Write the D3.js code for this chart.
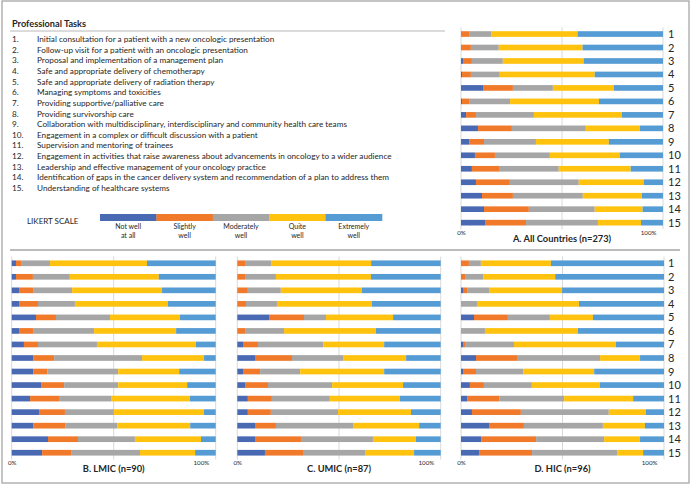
<!DOCTYPE html>
<html>
<head>
<meta charset="utf-8">
<script src="https://cdn.jsdelivr.net/npm/d3@7"></script>
<style>
  body { margin: 0; background: #fff; }
  svg text { font-family: Lato, "Open Sans", sans-serif; fill: #262626; }
</style>
</head>
<body>
<script>
// likert categories, in stacking order
const likert = ["Not well at all", "Slightly well", "Moderately well", "Quite well", "Extremely well"];
const likertLines = [["Not well", "at all"], ["Slightly", "well"], ["Moderately", "well"], ["Quite", "well"], ["Extremely", "well"]];
const likertColors = ["#4a69b3", "#f07a2a", "#a6a6a6", "#ffc20e", "#559bd4"];

const tasks = [
    "Initial consultation for a patient with a new oncologic presentation",
    "Follow-up visit for a patient with an oncologic presentation",
    "Proposal and implementation of a management plan",
    "Safe and appropriate delivery of chemotherapy",
    "Safe and appropriate delivery of radiation therapy",
    "Managing symptoms and toxicities",
    "Providing supportive/palliative care",
    "Providing survivorship care",
    "Collaboration with multidisciplinary, interdisciplinary and community health care teams",
    "Engagement in a complex or difficult discussion with a patient",
    "Supervision and mentoring of trainees",
    "Engagement in activities that raise awareness about advancements in oncology to a wider audience",
    "Leadership and effective management of your oncology practice",
    "Identification of gaps in the cancer delivery system and recommendation of a plan to address them",
    "Understanding of healthcare systems"
];
const taskIds = d3.range(1, 16);
const axisTicks = [0, 100];

// percentages per task (1..15): not well, slightly, moderately, quite, extremely
const allCountries = [
    [0, 4.0, 10.9, 42.8, 42.3], [0, 4.9, 13.8, 41.5, 39.8], [1.0, 4.4, 15.3, 40.0, 39.3],
    [0.5, 4.4, 14.3, 47.0, 33.8], [10.9, 14.8, 19.8, 30.1, 24.4], [0.5, 3.5, 20.3, 44.0, 31.7],
    [2.5, 4.9, 28.7, 43.5, 20.4], [8.4, 16.8, 36.6, 26.7, 11.5], [4.0, 7.4, 25.7, 36.1, 26.8],
    [6.9, 9.9, 27.2, 34.6, 21.4], [5.4, 13.8, 29.2, 35.6, 16.0], [7.4, 16.8, 34.1, 32.1, 9.6],
    [10.4, 15.3, 34.6, 29.2, 10.5], [11.4, 22.2, 32.6, 23.7, 10.1], [11.9, 20.3, 35.6, 21.3, 10.9]
];
const lmic = [
    [2.1, 2.5, 14.2, 47.5, 33.7], [2.1, 8.3, 18.1, 43.6, 27.9], [3.6, 6.9, 19.1, 44.1, 26.3],
    [3.6, 9.3, 18.1, 45.6, 23.4], [11.9, 9.8, 26.5, 34.3, 17.5], [3.6, 6.9, 29.9, 40.2, 19.4],
    [6.0, 6.9, 28.9, 48.5, 9.7], [10.5, 10.3, 43.1, 30.4, 5.7], [10.5, 6.9, 34.8, 29.9, 17.9],
    [14.4, 11.3, 26.5, 33.8, 14.0], [9.0, 14.2, 25.5, 38.7, 12.6], [13.4, 12.7, 24.0, 44.1, 5.8],
    [10.5, 15.7, 25.5, 35.8, 12.5], [17.8, 14.7, 27.9, 32.4, 7.2], [14.9, 14.2, 33.8, 27.0, 10.1]
];
const umic = [
    [0, 3.8, 12.8, 49.2, 34.2], [0, 3.8, 15.2, 46.7, 34.3], [0, 5.2, 16.2, 39.8, 38.8],
    [0, 4.3, 15.2, 46.7, 33.8], [15.6, 17.2, 10.8, 33.0, 23.4], [0, 3.8, 19.2, 45.2, 31.8],
    [2.8, 7.4, 32.0, 30.0, 27.8], [8.7, 18.2, 25.1, 31.0, 17.0], [2.8, 8.4, 19.7, 41.3, 27.8],
    [3.8, 11.3, 31.5, 34.9, 18.5], [5.2, 11.8, 28.5, 34.4, 20.1], [5.2, 11.3, 33.0, 35.9, 14.6],
    [8.7, 10.3, 37.9, 32.5, 10.6], [8.7, 22.6, 35.4, 21.1, 12.2], [13.6, 18.7, 30.5, 24.1, 13.1]
];
const hic = [
    [0, 3.9, 5.9, 34.5, 55.7], [0, 2.0, 8.9, 35.5, 53.6], [1.0, 2.0, 10.8, 36.0, 50.2],
    [0, 0, 7.9, 50.2, 41.9], [6.4, 16.7, 20.7, 21.2, 35.0], [0, 0, 11.8, 45.8, 42.4],
    [1.0, 1.0, 24.1, 50.2, 23.7], [7.4, 20.2, 40.9, 19.7, 11.8], [1.0, 6.4, 23.2, 35.0, 34.4],
    [4.4, 6.9, 23.6, 33.5, 31.6], [3.0, 15.8, 32.0, 34.0, 15.2], [5.4, 24.1, 43.3, 18.2, 9.0],
    [13.8, 17.2, 38.9, 20.7, 9.4], [9.9, 27.1, 33.5, 17.7, 11.8], [8.9, 26.1, 41.9, 12.8, 10.3]
];

const W = 691, H = 485;
const svg = d3.select("body").append("svg").attr("width", W).attr("height", H);

// frame
svg.append("rect").attr("x", 2).attr("y", 1).attr("width", 687).attr("height", 482)
    .attr("fill", "none").attr("stroke", "#a6a6a6").attr("stroke-width", 1.3);
svg.append("line").attr("x1", 10).attr("x2", 680).attr("y1", 250).attr("y2", 250)
    .attr("stroke", "#a6a6a6").attr("stroke-width", 1.3);

// task list
const list = svg.append("g");
list.append("text").attr("x", 12).attr("y", 27).attr("font-size", 9.2).attr("font-weight", "bold")
    .text("Professional Tasks");
list.append("line").attr("x1", 10).attr("x2", 445).attr("y1", 31).attr("y2", 31)
    .attr("stroke", "#a6a6a6").attr("stroke-width", 0.8);
const taskY = d3.scaleLinear().domain([1, 15]).range([42, 191]);
tasks.forEach((t, i) => {
    list.append("text").attr("x", 12).attr("y", taskY(i + 1)).attr("font-size", 8.2).text((i + 1) + ".");
    list.append("text").attr("x", 37).attr("y", taskY(i + 1)).attr("font-size", 8.2).text(t);
});

// legend
const lg = svg.append("g");
lg.append("text").attr("x", 27).attr("y", 224).attr("font-size", 8).text("LIKERT SCALE");
const lgx = d3.scaleBand().domain(likert).range([100, 382]).padding(0);
lg.selectAll("rect.key").data(likert).join("rect")
    .attr("x", d => lgx(d)).attr("y", 214).attr("width", lgx.bandwidth() + 0.3).attr("height", 7)
    .attr("fill", (d, i) => likertColors[i]);
likert.forEach((d, i) => {
    likertLines[i].forEach((ln, j) => {
        lg.append("text").attr("x", lgx(d) + lgx.bandwidth() / 2).attr("y", 228.5 + j * 9)
            .attr("text-anchor", "middle").attr("font-size", 7).text(ln);
    });
});

// stacked bar panels
function panel(data, title, x0, x1, top, bottom, showIds) {
    const g = svg.append("g");
    const x = d3.scaleLinear().domain([0, 100]).range([x0, x1]);
    const y = d3.scaleBand().domain(taskIds).range([top, bottom]).paddingInner(0.58).paddingOuter(0.29);

    g.selectAll("line.grid").data([0, 50, 100]).join("line")
        .attr("x1", d => x(d)).attr("x2", d => x(d)).attr("y1", top).attr("y2", bottom)
        .attr("stroke", "#d9d9d9").attr("stroke-width", 1);

    const rows = data.map((v, i) => {
        const o = { id: taskIds[i] };
        likert.forEach((k, j) => o[k] = v[j]);
        return o;
    });
    const series = d3.stack().keys(likert)(rows);
    g.selectAll("g.s").data(series).join("g")
        .attr("fill", (d, i) => likertColors[i])
        .selectAll("rect").data(d => d).join("rect")
        .attr("x", d => x(d[0])).attr("width", d => Math.max(0, x(d[1]) - x(d[0])))
        .attr("y", d => y(d.data.id)).attr("height", y.bandwidth());

    const ax = g.append("g").attr("transform", `translate(0,${bottom})`)
        .call(d3.axisBottom(x).tickValues(axisTicks).tickSize(0).tickPadding(3).tickFormat(d => d + "%"));
    ax.select(".domain").remove();
    ax.selectAll("text").attr("font-size", 6.2).attr("fill", "#404040").attr("dy", "0.45em");
    ax.selectAll(".tick").filter(d => d === 100).select("text")
        .attr("text-anchor", "end").attr("x", -7);

    g.append("text").attr("x", (x0 + x1) / 2).attr("y", bottom + 12.5).attr("text-anchor", "middle")
        .attr("font-size", 9.3).attr("font-weight", "bold").text(title);

    if (showIds) {
        g.selectAll("text.id").data(taskIds).join("text")
            .attr("x", 668).attr("y", d => y(d) + y.bandwidth() / 2 + 4)
            .attr("font-size", 11).attr("fill", "#000").text(d => d);
    }
}

panel(allCountries, "A. All Countries (n=273)", 461, 663, 27.3, 229.4, true);
panel(lmic, "B. LMIC (n=90)", 11.7, 215.7, 256.5, 459.5, false);
panel(umic, "C. UMIC (n=87)", 237.3, 440.7, 256.5, 459.5, false);
panel(hic, "D. HIC (n=96)", 461, 664, 256.5, 459.5, true);
</script>
</body>
</html>
